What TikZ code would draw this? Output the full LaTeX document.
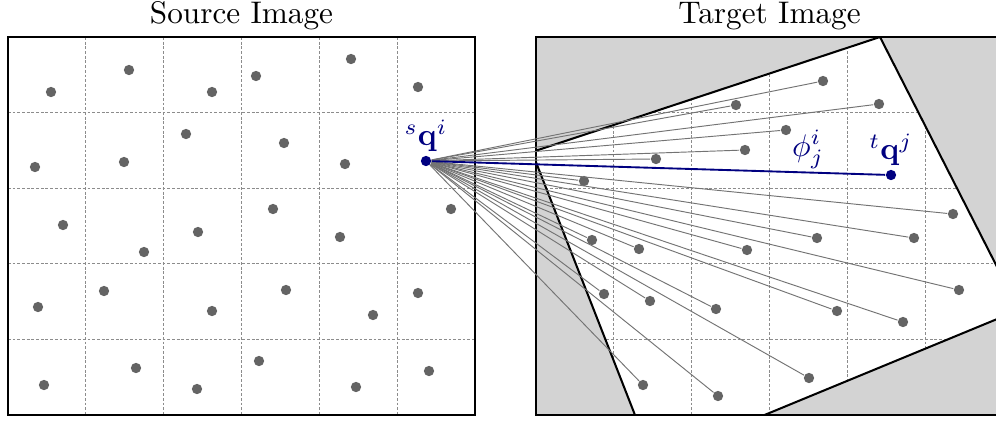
\documentclass[tikz,border=0pt]{standalone}
\usepackage{amsmath,amssymb}
\usepackage{xcolor}
\usepackage{tikz}
\usetikzlibrary{positioning}
\definecolor{ptgray}{HTML}{646464}
\definecolor{warpgray}{HTML}{D3D3D3}
\definecolor{corrblue}{HTML}{000080}

\begin{document}
\begin{tikzpicture}[x=0.32pt, y=-0.32pt,
 frame/.style={draw=black, line width=0.65pt},
 gridln/.style={draw=black!45, line width=0.35pt, dash pattern=on 0.9pt off 0.6pt},
 dot/.style={circle, fill=ptgray, inner sep=0pt, minimum size=3.3pt},
 qdot/.style={dot, fill=corrblue},
 ray/.style={draw=black!55, line width=0.3pt},
 lbl/.style={text=corrblue, inner sep=1pt}]
\clip (0,0) rectangle (996,423);
\node[anchor=base](srctitle) at (241.5,23){Source Image};
\node[anchor=base](tgttitle) at (769.5,23){Target Image};

% target image: gray where the warped source does not reach
\fill[warpgray](536,37) rectangle (1003,415);
\begin{scope}
\clip (536,37) rectangle (1003,415);
\fill[white](532,152)--(880,37)--(1019,310)--(653,461)--cycle;
\begin{scope}
\clip (532,152)--(880,37)--(1019,310)--(653,461)--cycle;
\foreach \k in {1,...,5}
  \draw[gridln]({536+77.83*\k},37)--++(0,378);
\foreach \k in {1,...,4}
  \draw[gridln](536,{37+75.6*\k})--++(467,0);
\end{scope}
\draw[line width=0.65pt](532,152)--(880,37)--(1019,310)--(653,461)--cycle;
\end{scope}

\foreach \k in {1,...,5}
  \draw[gridln]({8+77.83*\k},37)--++(0,378);
\foreach \k in {1,...,4}
  \draw[gridln](8,{37+75.6*\k})--++(467,0);
\draw[frame](8,37) rectangle (475,415);
\draw[frame](536,37) rectangle (1003,415);

\foreach \x/\y [count=\i] in {51/92, 129/70, 212/92, 256/76, 351/59, 418/87,
  35/167, 124/162, 186/134, 284/143, 345/164,
  63/225, 144/252, 198/232, 273/209, 340/237, 451/209,
  38/307, 104/291, 212/311, 286/290, 373/315, 418/293,
  44/385, 136/368, 197/389, 259/361, 356/387, 429/371}
  \node[dot](s\i) at (\x,\y){};
\node[qdot](sq) at (426,161){};
\node[lbl, above=0pt of sq]{${}^{s}\mathbf{q}^{i}$};

\foreach \x/\y [count=\i] in {823/81, 736/105, 879/104, 786/130, 745/150, 656/159,
  584/181, 953/214, 592/240, 639/249, 747/250, 817/238, 914/238, 959/290,
  604/294, 650/301, 716/309, 837/311, 903/322, 643/385, 718/396, 809/378}{
  \node[dot](t\i) at (\x,\y){};
  \draw[ray](sq)--(t\i);
}
\node[qdot](tq) at (891,175){};
\draw[corrblue, line width=0.6pt](sq)--node[lbl, pos=0.83, above=0pt]{$\phi^{i}_{j}$}(tq);
\node[lbl, above=0pt of tq]{${}^{t}\mathbf{q}^{j}$};

\end{tikzpicture}
\end{document}
